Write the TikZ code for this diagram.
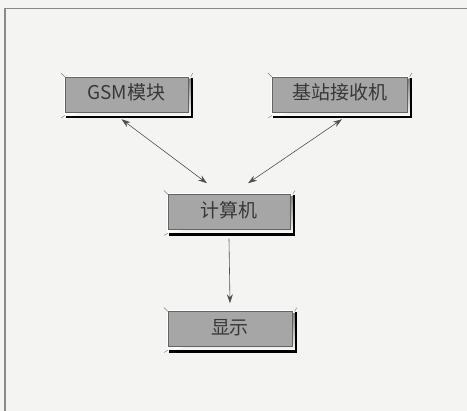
\documentclass[tikz,border=0pt]{standalone}
\usepackage{fontspec}
\setmainfont{Noto Sans CJK SC}
\usetikzlibrary{arrows.meta}
\definecolor{bg}{HTML}{F4F4F2}
\definecolor{boxfill}{HTML}{A6A6A6}
\definecolor{shade}{HTML}{3A3A3A}
\definecolor{txt}{HTML}{383838}
\definecolor{framec}{HTML}{8A8A8A}
\definecolor{arr}{HTML}{505050}
\newcommand\mybevel[4]{%
  \fill[white] (#1-1,#2-1) rectangle (#3+2.5,#4+3.8);
  \draw[shade, line width=2.2pt, line join=miter] (#1+1,#4+5) -- (#3+3.8,#4+5) -- (#3+3.8,#2+1);
  \draw[gray, line width=0.4pt] (#1,#2) -- (#1-4,#2-4) (#3+2.5,#2) -- (#3+5,#2-4) (#1,#4+3.5) -- (#1-4,#4+6);
}
\tikzset{
  btn/.style={fill=boxfill, draw=boxfill!60!black, line width=0.5pt,
    text=txt, font=\fontsize{19}{19}\selectfont,
    text height=15pt, text depth=4pt,
    minimum width=#1, minimum height=35pt, inner sep=0pt},
  conn/.style={draw=arr, line width=0.6pt, {Stealth[length=9pt,width=6pt]}-{Stealth[length=9pt,width=6pt]}},
  oneway/.style={draw=arr, line width=0.6pt, -{Stealth[length=9pt,width=6pt]}}
}
\begin{document}
\begin{tikzpicture}[x=1pt,y=-1pt]
\useasboundingbox (0,0) rectangle (467,411);
\fill[bg] (0,0) rectangle (467,411);
\draw[framec, line width=1.2pt] (467,8.5) -- (5,8.5) -- (5,411);
\mybevel{65}{77}{188}{112}
\mybevel{272}{77}{407}{112}
\mybevel{168}{194.5}{290}{229.5}
\mybevel{168}{311.5}{292}{346.5}
\node[btn=123pt] (gsm) at (126.5,94.5) {GSM模块};
\node[btn=135pt] (bs) at (339.5,94.5) {基站接收机};
\node[btn=122pt] (pc) at (229,212) {计算机};
\node[btn=124pt] (disp) at (230,329) {显示};
\draw[conn] ([shift={(-5pt,-7pt)}]gsm.south) -- ([shift={(-22pt,11pt)}]pc.north);
\draw[conn] ([shift={(2.5pt,-7pt)}]bs.south) -- ([shift={(19pt,11pt)}]pc.north);
\draw[oneway] ([yshift=-9pt]pc.south) -- ([yshift=8pt]disp.north);
\end{tikzpicture}
\end{document}
